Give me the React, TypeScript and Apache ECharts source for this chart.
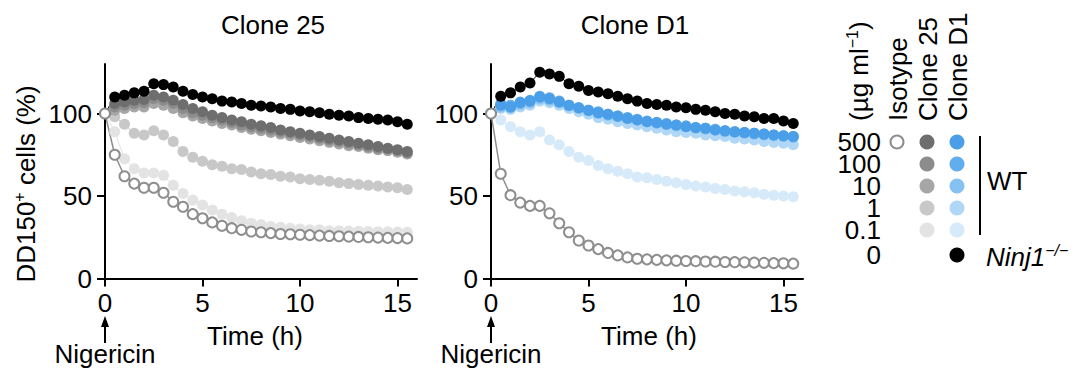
import React, { useEffect, useRef } from 'react';
import * as echarts from 'echarts';

const F = 'Liberation Sans, Arial, Helvetica, sans-serif';

const TIME = [0, 0.5, 1, 1.5, 2, 2.5, 3, 3.5, 4, 4.5, 5, 5.5, 6, 6.5, 7, 7.5, 8, 8.5, 9, 9.5, 10, 10.5, 11, 11.5, 12, 12.5, 13, 13.5, 14, 14.5, 15, 15.5];
const X_TICKS = [0, 5, 10, 15];
const Y_TICKS = [0, 50, 100];
const DOSES = ['500', '100', '10', '1', '0.1', '0'];

// Clone 25 panel
const ISO_25 = [100, 75, 62, 57.5, 55, 55, 52, 46.5, 43.5, 39, 36.5, 34, 32, 30.5, 29.5, 28.5, 28, 27.5, 27, 26.8, 26.5, 26.3, 26, 25.8, 25.6, 25.4, 25.2, 25, 24.8, 24.6, 24.5, 24.3];
const NINJ_25 = [100, 110, 111, 112.5, 113.5, 118, 117.5, 116, 113.5, 111.5, 110, 109, 107.5, 107, 106, 105, 104.5, 104, 103, 102.5, 101.5, 101, 100.5, 99.5, 99, 98.5, 97.5, 97, 96.5, 96, 95, 93.5];
const C25_500 = [100, 106, 107, 108, 108.5, 111, 110, 108, 105.5, 103, 101, 99, 97.5, 96, 95, 93.5, 92.5, 91.5, 90, 89, 88, 87, 86, 85, 84, 83, 82, 81, 80, 79, 78, 77];
const C25_100 = [100, 104, 105, 106, 106.5, 109, 108, 106, 103, 100.5, 99, 97.5, 96, 94.5, 93, 92, 91, 90, 89, 88, 87, 86, 85, 84, 83, 82, 81, 80, 79, 78.5, 77.5, 76];
const C25_10 = [100, 102, 103, 104, 104, 106, 105, 103, 100.5, 98.5, 97, 95.5, 94, 93, 91.5, 90.5, 89.5, 88.5, 87.5, 86.5, 85.5, 84.5, 83.5, 82.5, 81.5, 80.5, 80, 79, 78, 77.5, 76.5, 75.5];
const C25_1 = [100, 98, 93.5, 88, 87, 89.5, 87, 83, 77, 73.5, 71, 69, 68, 66.5, 66, 64.5, 63.5, 63, 62, 61.5, 60.5, 60, 59.5, 59, 58, 57.5, 57, 56.5, 56, 55.5, 55, 54];
const C25_01 = [100, 89, 72.5, 66.5, 64, 64, 62.5, 56.5, 51.5, 47.5, 44.5, 41.5, 39, 37, 35, 33.5, 32.5, 31.5, 31, 30.5, 30, 29.5, 29.5, 29, 29, 28.8, 28.6, 28.5, 28.4, 28.3, 28.2, 28];

// Clone D1 panel
const ISO_D1 = [100, 63.5, 50.5, 46, 44, 44, 39.5, 33.5, 28, 23, 20, 17.8, 15.5, 14, 12.8, 12, 11.6, 11.3, 11, 10.8, 10.6, 10.5, 10.3, 10.2, 10, 9.9, 9.8, 9.6, 9.5, 9.3, 9.2, 9];
const NINJ_D1 = [100, 110.5, 112.5, 116, 118.5, 125, 124, 122.5, 118, 116.5, 114, 113, 112, 110.5, 109, 107.5, 106, 105.5, 105, 104, 103.5, 102.5, 102, 101, 100, 99.5, 98.5, 98, 97, 97, 95.5, 94];
const D1_500 = [100, 105, 104, 106.5, 107.5, 110, 109, 107, 105, 103.5, 102, 100.5, 99.5, 98.5, 97, 96, 95, 94.5, 93.5, 93, 92, 91.5, 91, 90, 89.5, 89, 88.5, 88, 87.5, 87, 86.5, 86];
const D1_100 = [100, 106, 105, 107, 108, 110.5, 109.5, 107.5, 105, 103.5, 102, 101, 99.5, 98.5, 97.5, 96.5, 95.5, 94.5, 94, 93, 92.5, 91.5, 91, 90.5, 89.5, 89, 88.5, 88, 87.5, 87, 86.5, 86];
const D1_10 = [100, 104, 103.5, 105.5, 106.5, 109, 108, 106.5, 104.5, 103, 101.5, 100, 99, 98, 97, 96, 95, 94, 93.5, 92.5, 92, 91, 90.5, 90, 89, 88.5, 88, 87.5, 87, 86.5, 86, 85.5];
const D1_1 = [100, 103, 102.5, 104, 105, 107.5, 106.5, 105, 103, 101, 99.5, 97.5, 96.5, 95, 94, 93, 92, 91, 90, 89, 88.5, 88, 87, 86.5, 86, 85, 84.5, 84, 83, 82.5, 82, 81];
const D1_01 = [100, 96, 92, 89, 87, 89, 84, 81, 77, 73.5, 71.5, 68.5, 66.5, 65, 63.5, 61.5, 61, 60, 59, 58, 57, 56, 55.5, 54.5, 54, 53, 52.5, 52, 51, 50.5, 50, 49.5];

const GRAYS = ['#6e6e6e', '#8c8c8c', '#a6a6a6', '#c8c8c8', '#e3e3e3'];
const BLUES = ['#4a9fe8', '#62adee', '#85c1f1', '#b0d7f6', '#d6eaf9'];
const ISO_COLOR = '#8e8e8e';

const C25_SERIES = [C25_500, C25_100, C25_10, C25_1, C25_01];
const D1_SERIES = [D1_500, D1_100, D1_10, D1_1, D1_01];

const GRID_LEFT = [105, 491];
const GRID_TOP = 64;
const GRID_W = 312;
const GRID_H = 214.5;

function filledSeries(name: string, vals: number[], color: string, idx: number) {
  return {
    type: 'line',
    name,
    xAxisIndex: idx,
    yAxisIndex: idx,
    data: TIME.map((t, i) => [t, vals[i]]),
    symbol: 'circle',
    symbolSize: 11,
    showSymbol: true,
    itemStyle: { color },
    lineStyle: { color, width: 1 },
    silent: true,
    emphasis: { disabled: true },
  };
}

function isoSeries(vals: number[], idx: number) {
  return {
    type: 'line',
    name: 'Isotype',
    xAxisIndex: idx,
    yAxisIndex: idx,
    data: TIME.map((t, i) => [t, vals[i]]),
    symbol: 'circle',
    symbolSize: 10,
    showSymbol: true,
    itemStyle: { color: '#ffffff', borderColor: ISO_COLOR, borderWidth: 2 },
    lineStyle: { color: ISO_COLOR, width: 1.5 },
    silent: true,
    emphasis: { disabled: true },
  };
}

function panelSeries(doseVals: number[][], colors: string[], ninj: number[], iso: number[], idx: number) {
  const out: any[] = [];
  for (let k = doseVals.length - 1; k >= 0; k--) {
    out.push(filledSeries(DOSES[k], doseVals[k], colors[k], idx));
  }
  out.push(filledSeries('Ninj1', ninj, '#000000', idx));
  out.push(isoSeries(iso, idx));
  return out;
}

const axisCommon = {
  axisLine: { show: true, onZero: false, lineStyle: { color: '#000', width: 2 } },
  splitLine: { show: false },
};

function xAxis(idx: number) {
  return {
    type: 'value',
    gridIndex: idx,
    min: 0,
    max: 16,
    ...axisCommon,
    axisTick: { show: true, length: 8, lineStyle: { color: '#000', width: 2 }, customValues: X_TICKS },
    axisLabel: { fontSize: 26, color: '#000', fontFamily: F, margin: 11, customValues: X_TICKS },
  };
}

function yAxis(idx: number) {
  return {
    type: 'value',
    gridIndex: idx,
    min: 0,
    max: 130,
    ...axisCommon,
    axisTick: { show: true, length: 8, lineStyle: { color: '#000', width: 2 }, customValues: Y_TICKS },
    axisLabel: { fontSize: 26, color: '#000', fontFamily: F, margin: 13, customValues: Y_TICKS },
  };
}

function txt(text: string, x: number, y: number, align: string, extra: any = {}) {
  return {
    type: 'text',
    x,
    y,
    silent: true,
    ...extra,
    style: {
      text,
      fontSize: 26,
      fontFamily: F,
      fill: '#000',
      align,
      verticalAlign: 'middle',
      ...(extra.style || {}),
    },
  };
}

function arrow(x: number) {
  return [
    { type: 'line', silent: true, shape: { x1: x, y1: 343, x2: x, y2: 324 }, style: { stroke: '#000', lineWidth: 2 } },
    { type: 'polygon', silent: true, shape: { points: [[x, 316], [x - 4, 327], [x + 4, 327]] }, style: { fill: '#000' } },
  ];
}

const LEG_ROW_Y = [142, 164, 186, 208, 230, 255];
const SUP_RICH = {
  a: { fontSize: 26, fontFamily: F, lineHeight: 30, fill: '#000' },
  s: { fontSize: 16, fontFamily: F, lineHeight: 16, verticalAlign: 'top', fill: '#000' },
  ai: { fontSize: 26, fontFamily: F, fontStyle: 'italic', lineHeight: 30, fill: '#000' },
  si: { fontSize: 16, fontFamily: F, fontStyle: 'italic', lineHeight: 16, verticalAlign: 'top', fill: '#000' },
};

function legendGraphics() {
  const g: any[] = [];
  const rot = Math.PI / 2;
  g.push(txt('{a|(µg ml}{s|−1}{a|)}', 859, 121, 'left', { rotation: rot, style: { rich: SUP_RICH } }));
  g.push(txt('Isotype', 898, 121, 'left', { rotation: rot }));
  g.push(txt('Clone 25', 928, 121, 'left', { rotation: rot }));
  g.push(txt('Clone D1', 958, 121, 'left', { rotation: rot }));
  DOSES.forEach((d, i) => g.push(txt(d, 881, LEG_ROW_Y[i], 'right', { style: { lineHeight: 20 } })));
  g.push({ type: 'circle', silent: true, shape: { cx: 897, cy: LEG_ROW_Y[0], r: 6.5 }, style: { fill: '#fff', stroke: ISO_COLOR, lineWidth: 2 } });
  for (let i = 0; i < 5; i++) {
    g.push({ type: 'circle', silent: true, shape: { cx: 927, cy: LEG_ROW_Y[i], r: 7.5 }, style: { fill: GRAYS[i] } });
    g.push({ type: 'circle', silent: true, shape: { cx: 957, cy: LEG_ROW_Y[i], r: 7.5 }, style: { fill: BLUES[i] } });
  }
  g.push({ type: 'circle', silent: true, shape: { cx: 957, cy: LEG_ROW_Y[5], r: 7.5 }, style: { fill: '#000' } });
  g.push({ type: 'line', silent: true, shape: { x1: 980, y1: 136, x2: 980, y2: 235 }, style: { stroke: '#000', lineWidth: 2 } });
  g.push(txt('WT', 987, 181, 'left'));
  g.push(txt('{ai|Ninj1}{si|−/−}', 986, 257, 'left', { style: { rich: SUP_RICH } }));
  return g;
}

export default function App() {
  const ref = useRef<HTMLDivElement>(null);
  useEffect(() => {
    if (!ref.current) return;
    const chart = echarts.init(ref.current, null, { renderer: 'svg' });
    const option: any = {
      animation: false,
      backgroundColor: '#ffffff',
      textStyle: { fontFamily: F },
      grid: GRID_LEFT.map((l) => ({ left: l, top: GRID_TOP, width: GRID_W, height: GRID_H, containLabel: false })),
      xAxis: [xAxis(0), xAxis(1)],
      yAxis: [yAxis(0), yAxis(1)],
      series: [
        ...panelSeries(C25_SERIES, GRAYS, NINJ_25, ISO_25, 0),
        ...panelSeries(D1_SERIES, BLUES, NINJ_D1, ISO_D1, 1),
      ],
      graphic: [
        txt('Clone 25', 273, 25, 'center'),
        txt('Clone D1', 635, 25, 'center'),
        txt('Time (h)', 255, 336, 'center'),
        txt('Time (h)', 649, 336, 'center'),
        txt('Nigericin', 105, 354, 'center'),
        txt('Nigericin', 491, 354, 'center'),
        ...arrow(105),
        ...arrow(491),
        txt('{a|DD150}{s|+}{a| cells (%)}', 26, 184, 'center', { rotation: Math.PI / 2, style: { rich: SUP_RICH } }),
        ...legendGraphics(),
      ],
    };
    chart.setOption(option);
    return () => chart.dispose();
  }, []);
  return <div ref={ref} style={{ position: 'fixed', left: 0, top: 0, width: 1080, height: 388 }} />;
}
